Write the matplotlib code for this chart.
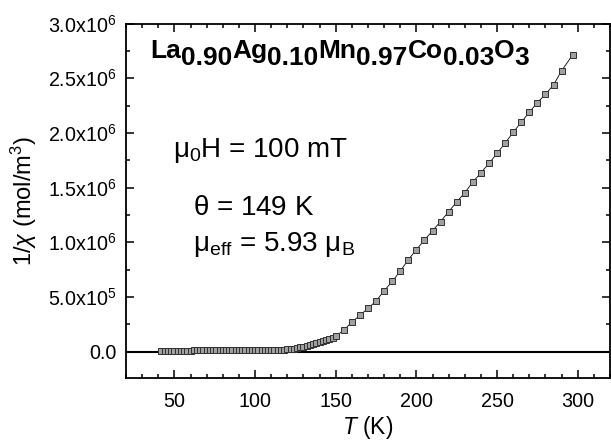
import matplotlib
matplotlib.use("Agg")
import matplotlib.pyplot as plt
from matplotlib.ticker import MultipleLocator, FuncFormatter

# ---- data ----
T_low = [42, 44, 46, 48, 50, 52, 54, 56, 58, 60, 62, 64, 66, 68, 70, 72, 74, 76,
         78, 80, 82, 84, 86, 88, 90, 92, 94, 96, 98, 100, 102, 104, 106, 108, 110,
         112, 114, 116, 118, 120, 122, 124, 126, 128, 130, 132, 134, 136, 138, 140,
         142, 144, 146, 148, 150]
inv_chi_low = [9000, 9000, 9000, 9000, 9000, 9000, 9000, 9000, 9000, 9000,
               9500, 9500, 9500, 9500, 9500, 9500, 9500, 9500, 9500, 10000,
               10000, 10000, 10000, 10000, 10000, 10000, 10000, 10000, 10000, 10000,
               10500, 10500, 11000, 11000, 11000,
               12000, 13000, 15000, 17000, 19000, 22000, 26000, 31000, 37000, 44000,
               51000, 59000, 67000, 76000, 85000, 94000, 104000, 115000, 127000, 140000]
T_high = [155, 160, 165, 170, 175, 180, 185, 190, 195, 200, 205, 210, 215, 220,
          225, 230, 235, 240, 245, 250, 255, 260, 265, 270, 275, 280, 285, 290, 297]
inv_chi_high = [195000, 270000, 330000, 395000, 462000, 555000, 641000, 735000,
                840000, 932000, 1020000, 1105000, 1189000, 1280000, 1368000, 1453000,
                1550000, 1635000, 1720000, 1813000, 1906000, 2005000, 2098000,
                2189000, 2277000, 2353000, 2438000, 2568000, 2716000]

x_ticks = [50, 100, 150, 200, 250, 300]
y_ticks = [0.0, 0.5e6, 1.0e6, 1.5e6, 2.0e6, 2.5e6, 3.0e6]

formula_parts = [("La", False), ("0.90", True), ("Ag", False), ("0.10", True),
                 ("Mn", False), ("0.97", True), ("Co", False), ("0.03", True),
                 ("O", False), ("3", True)]

# ---- style ----
plt.rcParams['font.family'] = ['Liberation Sans', 'DejaVu Sans']
plt.rcParams['mathtext.fontset'] = 'custom'
plt.rcParams['mathtext.rm'] = 'Liberation Sans'
plt.rcParams['mathtext.it'] = 'Liberation Sans:italic'
plt.rcParams['mathtext.bf'] = 'Liberation Sans:bold'

W, H = 611, 445
fig = plt.figure(figsize=(W / 100, H / 100), dpi=100)
ax = fig.add_axes([126 / W, 1 - 378.3 / H, (610 - 126) / W, (378.3 - 23.5) / H])

T_all = T_low + T_high
v_all = inv_chi_low + inv_chi_high

ax.axhline(0, color='black', lw=1.5, zorder=1)
ax.plot(T_all, v_all, '-', color='black', lw=0.6, zorder=2)
ax.plot(T_all, v_all, 's', ms=4.2, mfc='#a0a0a0', mec='#303030', mew=0.7,
        ls='none', zorder=3)

ax.set_xlim(20, 320)
ax.set_ylim(-0.245e6, 3.0e6)
ax.set_xticks(x_ticks)
ax.set_yticks(y_ticks)
ax.xaxis.set_minor_locator(MultipleLocator(10))
ax.yaxis.set_minor_locator(MultipleLocator(0.25e6))


def yfmt(v, pos):
    if abs(v) < 1:
        return '0.0'
    e = 0
    m = v
    while m >= 10:
        m /= 10
        e += 1
    return r'$\mathregular{%.1fx10^{%d}}$' % (m, e)


ax.yaxis.set_major_formatter(FuncFormatter(yfmt))

for s in ax.spines.values():
    s.set_linewidth(1.3)
ax.tick_params(which='both', direction='in', top=True, right=True, width=1.1)
ax.tick_params(which='major', length=6, labelsize=14.2, pad=7)
ax.tick_params(which='minor', length=3)
ax.tick_params(axis='x', which='major', pad=10)

ax.set_xlabel(r'$\it{T}$ (K)', fontsize=16.5, labelpad=2)
ax.set_ylabel(r'1/$\chi$ (mol/m$^3$)', fontsize=17, labelpad=6)

# ---- formula with full-size subscripts ----
fs_f = 19
t = ax.text(150 / W, 1 - 58 / H, formula_parts[0][0], transform=fig.transFigure,
            fontsize=fs_f, fontweight='bold', ha='left', va='baseline')
prev_sub = False
for txt, sub in formula_parts[1:]:
    dy = 0
    if sub and not prev_sub:
        dy = -7
    elif not sub and prev_sub:
        dy = 7
    t = ax.annotate(txt, xy=(1, 0), xycoords=t, xytext=(0, dy),
                    textcoords='offset pixels', fontsize=fs_f, fontweight='bold',
                    ha='left', va='bottom')
    prev_sub = sub

# ---- annotations ----
ax.text(172.7 / W, 1 - 157 / H, r'$\mathregular{\mu_0}$H = 100 mT',
        transform=fig.transFigure, fontsize=20, ha='left', va='baseline')
ax.text(193 / W, 1 - 215 / H, r'$\mathregular{\theta}$ = 149 K',
        transform=fig.transFigure, fontsize=20, ha='left', va='baseline')
ax.text(193 / W, 1 - 250.7 / H, r'$\mathregular{\mu_{eff}}$ = 5.93 $\mathregular{\mu_B}$',
        transform=fig.transFigure, fontsize=20, ha='left', va='baseline')

fig.savefig('out.png', dpi=100)
